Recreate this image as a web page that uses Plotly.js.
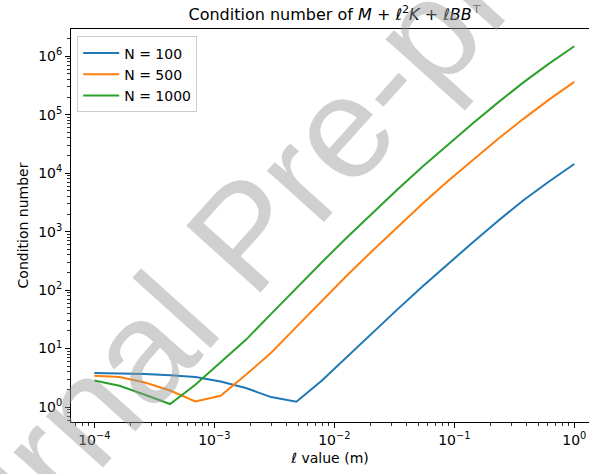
<!DOCTYPE html>
<html>
<head>
<meta charset="utf-8">
<script src="https://cdn.plot.ly/plotly-3.0.1.min.js"></script>
<style>html,body{margin:0;padding:0;background:#fff;}#chart{width:589px;height:474px;}</style>
</head>
<body>
<div id="chart"></div>
<script>
const ellValues = [1e-4, 1.624e-4, 2.637e-4, 4.281e-4, 6.952e-4, 1.129e-3, 1.833e-3, 2.976e-3, 4.833e-3, 7.848e-3,
  1.274e-2, 2.069e-2, 3.360e-2, 5.456e-2, 8.859e-2, 0.1438, 0.2336, 0.3793, 0.6158, 1.0];
const condN100 = [3.81, 3.78, 3.66, 3.49, 3.25, 2.74, 2.11, 1.48, 1.23, 2.81,
  7.23, 18.6, 46.8, 116, 280, 666, 1550, 3475, 7190, 14300];
const condN500 = [3.42, 3.25, 2.63, 1.92, 1.246, 1.56, 3.56, 8.46, 23.5, 65.4,
  178, 467, 1200, 3027, 7330, 17070, 39000, 85700, 180700, 364000];
const condN1000 = [2.85, 2.31, 1.62, 1.125, 2.40, 5.71, 14.1, 39.2, 109, 297,
  794, 2083, 5250, 12970, 30780, 71750, 163700, 359700, 744700, 1482000];
const seriesNames = ['N = 100', 'N = 500', 'N = 1000'];
const seriesColors = ['#1f77b4', '#ff7f0e', '#2ca02c'];
const seriesValues = [condN100, condN500, condN1000];
const xTickVals = [1e-4, 1e-3, 1e-2, 1e-1, 1];
const xTickText = ['10<sup>−4</sup>', '10<sup>−3</sup>', '10<sup>−2</sup>', '10<sup>−1</sup>', '10<sup>0</sup>'];
const yTickVals = [1, 10, 100, 1e3, 1e4, 1e5, 1e6];
const yTickText = ['10<sup>0</sup>', '10<sup>1</sup>', '10<sup>2</sup>', '10<sup>3</sup>', '10<sup>4</sup>', '10<sup>5</sup>', '10<sup>6</sup>'];

function minorTicks(lo, hi) {
  const out = [];
  for (let e = lo; e <= hi; e++) for (let d = 2; d <= 9; d++) out.push(d * Math.pow(10, e));
  return out;
}

const font = 'DejaVu Sans, sans-serif';
const traces = seriesValues.map((v, k) => ({
  x: ellValues, y: v, type: 'scatter', mode: 'lines', name: seriesNames[k],
  line: {color: seriesColors[k], width: 2}
}));

function axis(tv, tt, minorVals, mirror) {
  return {
    type: 'log', showline: true, linecolor: 'black', linewidth: 1, mirror: mirror,
    ticks: 'outside', ticklen: 5, tickwidth: 1, tickcolor: 'black',
    showgrid: false, zeroline: false,
    tickmode: 'array', tickvals: tv, ticktext: tt,
    tickfont: {family: font, size: 14, color: 'black'},
    minor: {tickmode: 'array', tickvals: minorVals, ticks: 'outside', ticklen: 3, tickwidth: 0.8, tickcolor: 'black', showgrid: false}
  };
}

const layout = {
  width: 589, height: 474,
  margin: {l: 71, r: 0, t: 29, b: 52},
  paper_bgcolor: 'white', plot_bgcolor: 'white',
  showlegend: true,
  title: {
    text: 'Condition number of <i>M</i> + <i>ℓ</i><sup>2</sup><i>K</i> + <i>ℓBB</i><sup>⊤</sup>',
    font: {family: font, size: 16, color: 'black'},
    x: 335 / 589, xref: 'container', xanchor: 'center', y: 1 - 14 / 474, yref: 'container', yanchor: 'middle'
  },
  xaxis: Object.assign(axis(xTickVals, xTickText, minorTicks(-5, -1), true), {
    range: [-4.194, 0.1225],
    title: {text: '<i>ℓ</i> value (m)', font: {family: font, size: 14, color: 'black'}, standoff: 6}
  }),
  yaxis: Object.assign(axis(yTickVals, yTickText, minorTicks(-1, 6), false), {
    range: [-0.256, 6.465],
    title: {text: 'Condition number', font: {family: font, size: 14, color: 'black'}, standoff: 6}
  }),
  legend: {
    x: 0.012, y: 0.981, xanchor: 'left', yanchor: 'top', itemwidth: 36,
    bgcolor: 'rgba(255,255,255,0.8)', bordercolor: '#cccccc', borderwidth: 1,
    font: {family: font, size: 14, color: 'black'}
  },
  annotations: [{
    text: 'Journal Pre-proof', xref: 'paper', yref: 'paper',
    x: (245 - 71) / 518, y: (422 - 235) / 393, xanchor: 'center', yanchor: 'middle',
    showarrow: false, textangle: -48,
    font: {family: 'Liberation Sans, Arial, sans-serif', size: 145, color: 'rgba(150,150,150,0.45)'}
  }]
};

Plotly.newPlot('chart', traces, layout, {displayModeBar: false, staticPlot: true});
</script>
</body>
</html>
